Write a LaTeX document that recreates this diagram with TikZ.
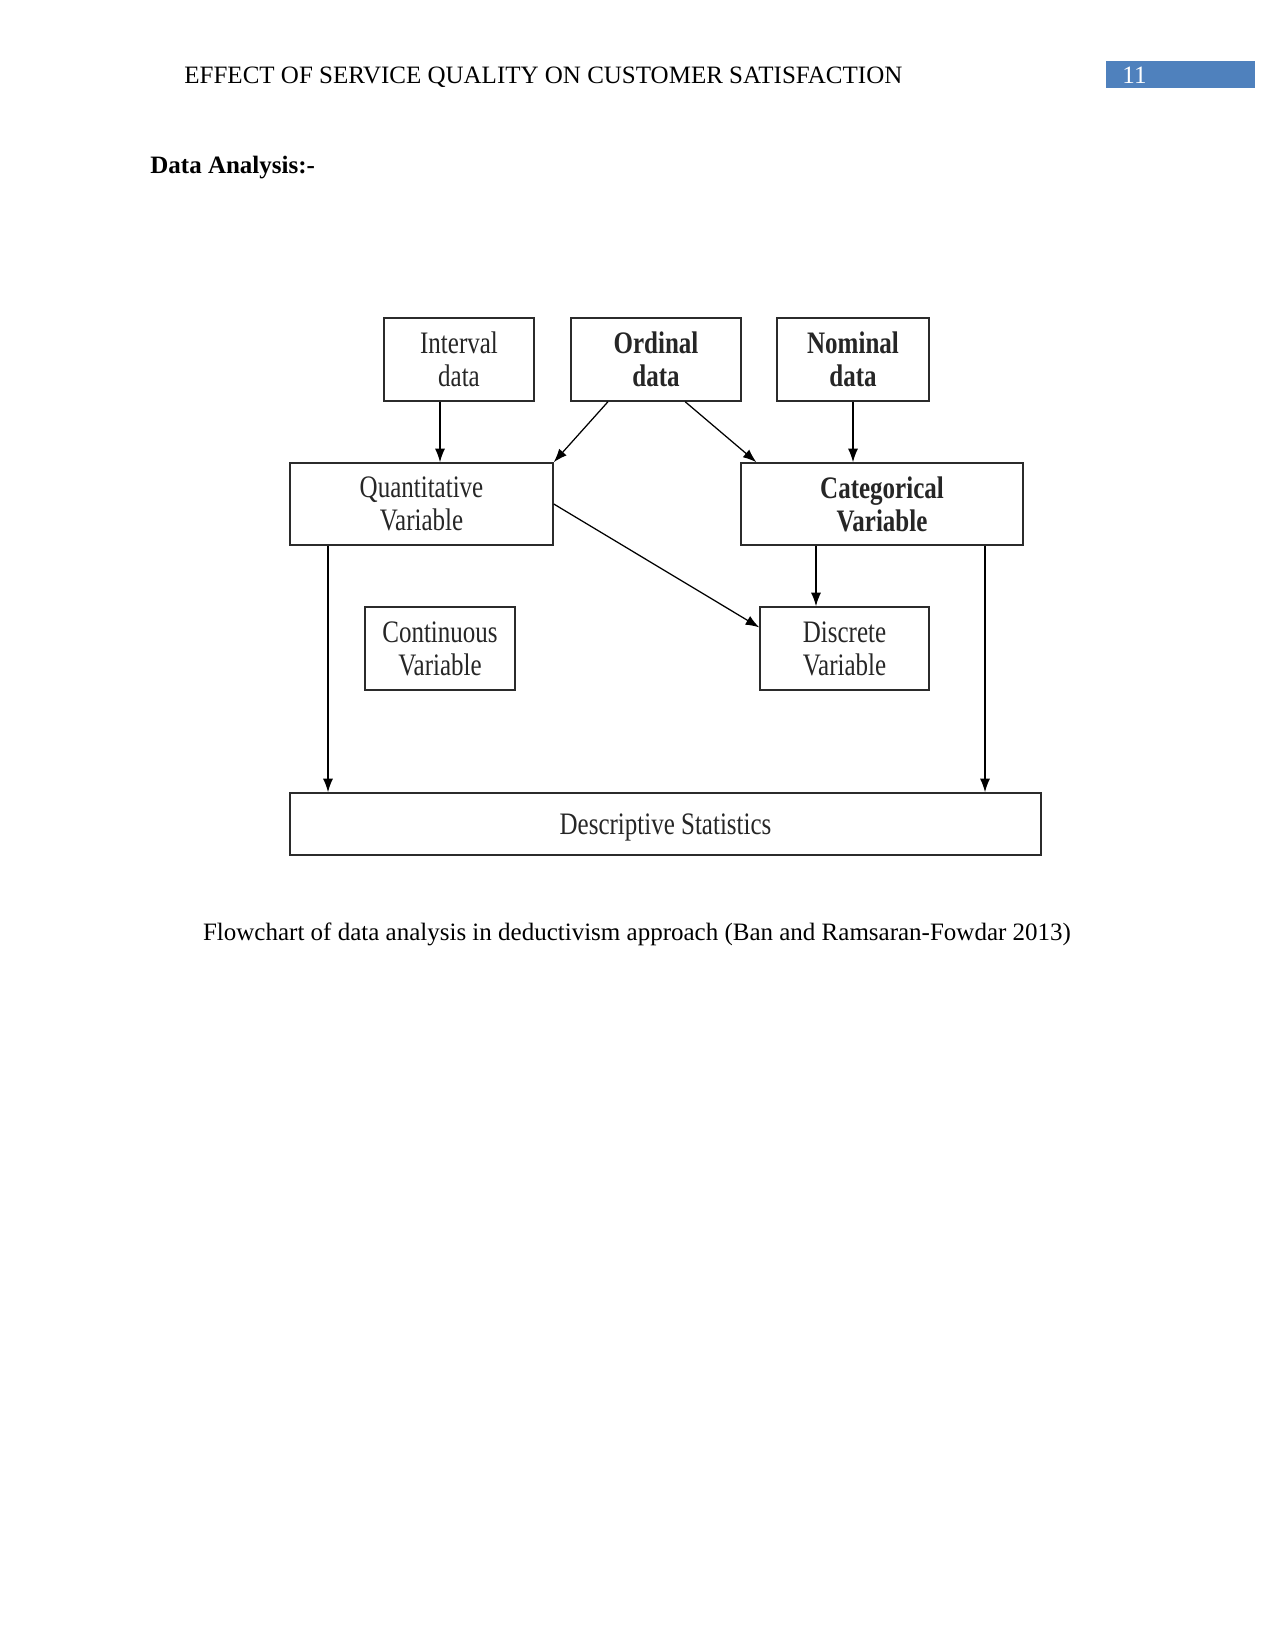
\documentclass[tikz,border=0pt]{standalone}
\usepackage{fontspec}
\setmainfont{Liberation Serif}
\newfontfamily\diagfont[FakeStretch=0.8]{Liberation Serif}
\usetikzlibrary{arrows.meta,calc}
\definecolor{hdrblue}{HTML}{4F81BD}
\definecolor{boxline}{HTML}{2B2B2B}
\begin{document}
\begin{tikzpicture}[x=0.48pt,y=-0.48pt,
  box/.style={draw=boxline,line width=0.75pt,rectangle,inner sep=0pt,align=center,
    minimum height=39.8pt,text=black!85,text depth=-1.2pt,font=\diagfont\fontsize{15}{15.7}\selectfont},
  arr/.style={draw=black,line width=0.6pt,-{Latex[length=6.5pt,width=4.8pt]}},
  doc/.style={inner sep=0pt,font=\fontsize{12}{14}\selectfont}]
\path[fill=white] (0,0) rectangle (1275,1650);
\useasboundingbox (0,0) rectangle (1275,1650);
% header
\node[doc,anchor=base west] (hdr) at (184,84) {EFFECT OF SERVICE QUALITY ON CUSTOMER SATISFACTION};
\node[fill=hdrblue,minimum width=71.52pt,minimum height=12.96pt,inner sep=0pt] (pg) at (1180.5,74.5) {};
\node[doc,anchor=base west,text=white] (pgnum) at (1122,84) {11};
\node[doc,anchor=base west,font=\bfseries\fontsize{12}{14}\selectfont] (title) at (150,174) {Data Analysis:-};
% boxes
\node[box,minimum width=72pt] (int) at (459,359.5) {Interval\\data};
\node[box,minimum width=81.6pt,font=\diagfont\bfseries\fontsize{15}{15.7}\selectfont] (ord) at (656,359.5) {Ordinal\\data};
\node[box,minimum width=72.96pt,font=\diagfont\bfseries\fontsize{15}{15.7}\selectfont] (nom) at (853,359.5) {Nominal\\data};
\node[box,minimum width=126.24pt,minimum height=39.36pt] (quant) at (421.5,504) {Quantitative\\Variable};
\node[box,minimum width=135.36pt,minimum height=39.36pt,font=\diagfont\bfseries\fontsize{15}{15.7}\selectfont] (cat) at (882,504) {Categorical\\Variable};
\node[box,minimum width=72pt] (cont) at (440,648.5) {Continuous\\Variable};
\node[box,minimum width=81.12pt] (disc) at (844.5,648.5) {Discrete\\Variable};
\node[box,minimum width=360.48pt,minimum height=29.76pt] (desc) at (665.5,824) {Descriptive Statistics};
% caption
\node[doc,anchor=base] (cap) at (637,940) {Flowchart of data analysis in deductivism approach (Ban and Ramsaran-Fowdar 2013)};
% arrow x positions
\coordinate (xa) at (440,0);
\coordinate (xn) at (853,0);
\coordinate (xd) at (816,0);
\coordinate (xq) at (328,0);
\coordinate (xc) at (985,0);
% connectors
\draw[arr] (xa |- int.south) -- (xa |- quant.north);
\draw[arr] ($(ord.south west)!0.22!(ord.south east)$) -- (quant.north east);
\draw[arr] ($(ord.south west)!0.67!(ord.south east)$) -- ($(cat.north west)!0.057!(cat.north east)$);
\draw[arr] (xn |- nom.south) -- (xn |- cat.north);
\draw[arr] (quant.east) -- ($(disc.north west)!0.25!(disc.south west)$);
\draw[arr] (xd |- cat.south) -- (xd |- disc.north);
\draw[arr] (xq |- quant.south) -- (xq |- desc.north);
\draw[arr] (xc |- cat.south) -- (xc |- desc.north);
\end{tikzpicture}
\end{document}
